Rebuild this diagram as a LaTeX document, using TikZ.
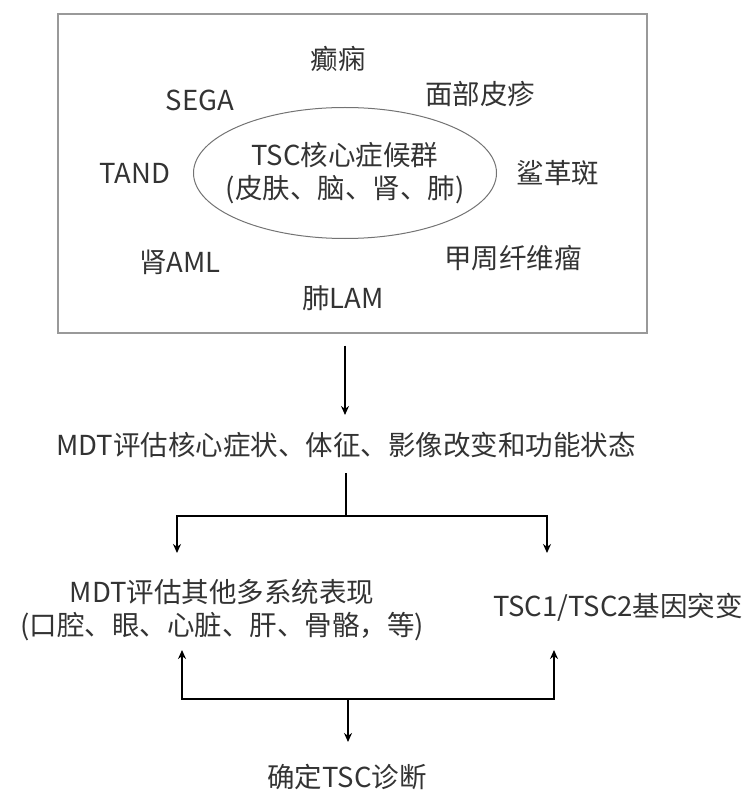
\documentclass[tikz,border=0pt]{standalone}
\usepackage{fontspec}
\setmainfont{Noto Sans CJK SC}
\usetikzlibrary{shapes.geometric, arrows.meta}

\begin{document}
\begin{tikzpicture}[x=1pt, y=-1pt, >={Stealth[length=9pt, width=8pt]}, color=black!80,
  font=\fontsize{27.5}{33}\selectfont,
  lbl/.style={inner sep=0pt, align=center},
  flow/.style={->, line width=2.6pt, black},
  bar/.style={line width=2.6pt, black}]
  \useasboundingbox (0,0) rectangle (744,794);
  % Symptom panel with the core ellipse
  \node[draw=black!40, line width=1.2pt, minimum width=589pt, minimum height=319pt, inner sep=0pt] (panel) at (352.5,173.5) {};
  \node[ellipse, draw=black!55, line width=1pt, minimum width=303pt, minimum height=131pt, inner sep=0pt] (core) at (345,173) {};
  \node[lbl] (coretext) at (core.center) {TSC核心症候群\\(皮肤、脑、肾、肺)};
  % Features around the ellipse
  \node[lbl] (epilepsy) at (338,59) {癫痫};
  \node[lbl] (sega) at (200,100) {SEGA};
  \node[lbl] (facial) at (480,94) {面部皮疹};
  \node[lbl] (tand) at (135,173) {TAND};
  \node[lbl] (shagreen) at (558,173) {鲨革斑};
  \node[lbl] (aml) at (180,262) {肾AML};
  \node[lbl] (ungual) at (513,258) {甲周纤维瘤};
  \node[lbl] (lam) at (343,298) {肺LAM};
  % Flow below the panel
  \node[lbl] (evalcore) at (346,445) {MDT评估核心症状、体征、影像改变和功能状态};
  \node[lbl] (evalother) at (222,610.5) {MDT评估其他多系统表现\\(口腔、眼、心脏、肝、骨骼，等)};
  \node[lbl] (gene) at (618,607) {TSC1/TSC2基因突变};
  \node[lbl] (diagnosis) at (347,777) {确定TSC诊断};
  \coordinate (fork) at (346,516);
  \coordinate (otherin) at (177,553);
  \coordinate (genein) at (547,553);
  \coordinate (join) at (348,699);
  \coordinate (otherout) at (182,650);
  \coordinate (geneout) at (554,650);
  \draw[flow, shorten <=12pt, shorten >=17pt] (core |- panel.south) -- (core |- evalcore.north);
  \draw[bar, shorten <=15pt] (fork |- evalcore.south) -- (fork);
  \draw[flow] (fork) -| (otherin);
  \draw[flow] (fork) -| (genein);
  \draw[flow] (join) -| (otherout);
  \draw[flow] (join) -| (geneout);
  \draw[flow, shorten >=22pt] (join) -- (join |- diagnosis.north);
\end{tikzpicture}
\end{document}
